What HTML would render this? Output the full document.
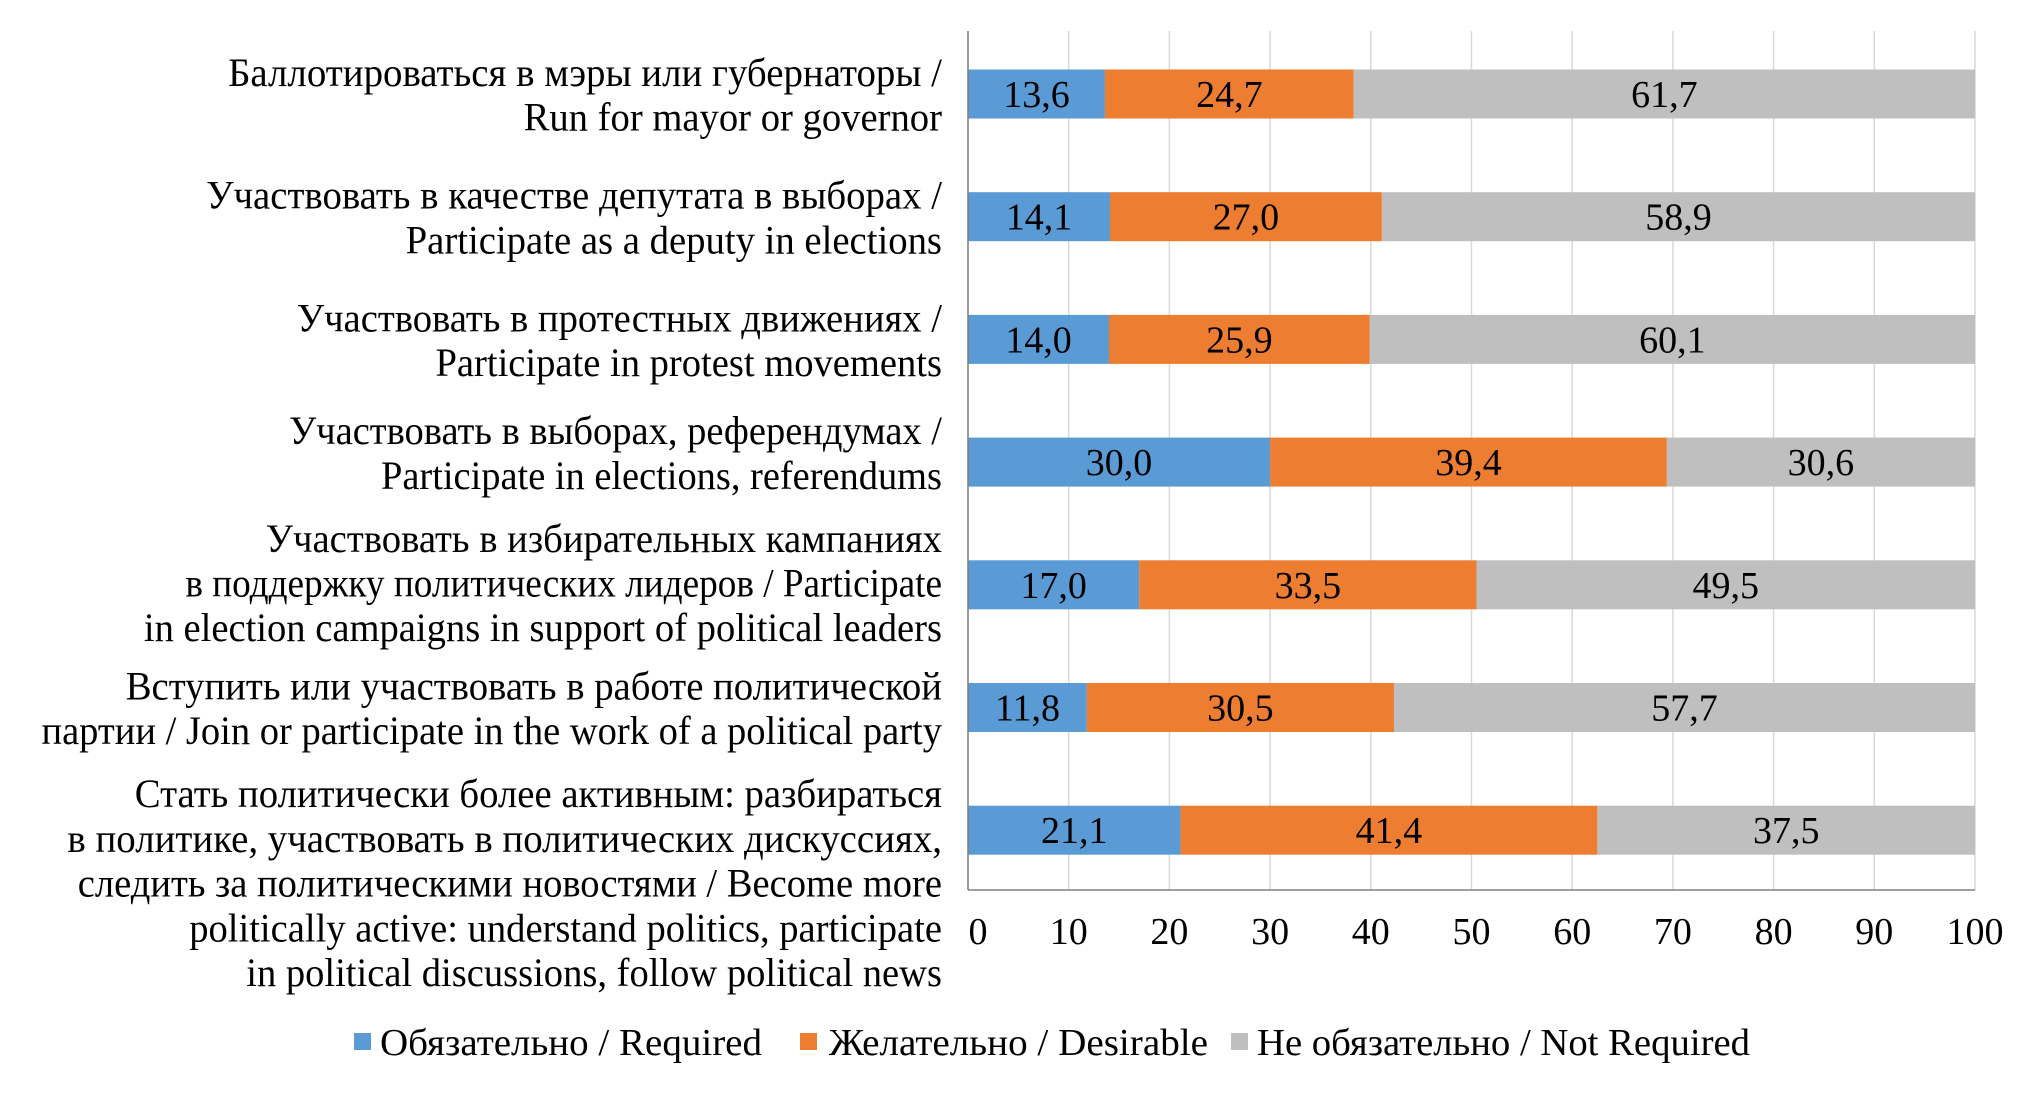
<!DOCTYPE html>
<html><head><meta charset="utf-8"><style>
html,body{margin:0;padding:0;background:#fff}
svg{display:block}
text{font-family:"Liberation Serif","Times New Roman",serif;font-size:38px;fill:#000}
text.cat{font-size:40px}
</style></head><body>
<svg id="chart" width="2022" height="1093" xmlns="http://www.w3.org/2000/svg"></svg>
<script>
const categories=[
 [["Баллотироваться в мэры или губернаторы /",176],["Run for mayor or governor",404]],
 [["Участвовать в качестве депутата в выборах /",159],["Participate as a deputy in elections",313]],
 [["Участвовать в протестных движениях /",229],["Participate in protest movements",336]],
 [["Участвовать в выборах, референдумах /",223],["Participate in elections, referendums",294]],
 [["Участвовать в избирательных кампаниях",205],["в поддержку политических лидеров / Participate",143],["in election campaigns in support of political leaders",111]],
 [["Вступить или участвовать в работе политической",97],["партии / Join or participate in the work of a political party",32]],
 [["Стать политически более активным: разбираться",104],["в политике, участвовать в политических дискуссиях,",52],["следить за политическими новостями / Become more",60],["politically active: understand politics, participate",146],["in political discussions, follow political news",190]]
];
const required=[13.6,14.1,14.0,30.0,17.0,11.8,21.1];
const desirable=[24.7,27.0,25.9,39.4,33.5,30.5,41.4];
const notRequired=[61.7,58.9,60.1,30.6,49.5,57.7,37.5];
const ticks=[0,10,20,30,40,50,60,70,80,90,100];
const seriesNames=["Обязательно / Required","Желательно / Desirable","Не обязательно / Not Required"];

const svg=document.getElementById('chart');
const NS="http://www.w3.org/2000/svg";
const X0=968,X1=1975,TOP=31,BOT=890;
const x=v=>X0+(X1-X0)*v/100;
const rowC=i=>94+i*122.7;
const BH=49;
function el(t,a,p){const e=document.createElementNS(NS,t);for(const k in a)e.setAttribute(k,a[k]);(p||svg).appendChild(e);return e;}
const fmt=v=>v.toFixed(1).replace('.',',');
ticks.forEach(t=>{
 const g=el('line',{x1:x(t),x2:x(t),y1:TOP,y2:BOT,stroke:'#d9d9d9','stroke-width':1.5});
 
 
 const tl=el('text',{x:x(t)+(t===0?10:0),y:944,'text-anchor':'middle'});tl.textContent=t;
 
 
});
const colors=['#5b9bd5','#ed7d31','#bfbfbf'];
const series=[required,desirable,notRequired];
categories.forEach((lines,i)=>{
 const cy=rowC(i);
 let acc=0;
 series.forEach((s,k)=>{
  const v=s[i];
  const r=el('rect',{x:x(acc),y:cy-BH/2,width:x(acc+v)-x(acc),height:BH,fill:colors[k]});
  
  
  const t=el('text',{x:(x(acc)+x(acc+v))/2,y:cy+13,'text-anchor':'middle'});t.textContent=fmt(v);
  
  
  acc+=v;
 });
 const n=lines.length, lh=44.7;
 let y0 = n===2 ? cy-22 : (n===3? cy-47 : cy-37);
 if(i===3) y0=cy-32;
 lines.forEach((ln,j)=>{
  const sx=ln[1]*1.296, right=942;
  const t=el('text',{class:'cat',x:right,y:y0+j*lh+14,'text-anchor':'end',textLength:right-sx,lengthAdjust:'spacingAndGlyphs'});
  t.textContent=ln[0];
  
  
 });
});
const ax=el('line',{x1:X0,x2:X1,y1:BOT,y2:BOT,stroke:'#808080','stroke-width':1.5});


const ay=el('line',{x1:X0,x2:X0,y1:TOP,y2:BOT,stroke:'#808080','stroke-width':1.5});


const lg=[[354,380,762],[800,829,1208],[1231,1257,1750]];
seriesNames.forEach((nm,k)=>{
 const s=el('rect',{x:lg[k][0],y:1033,width:17,height:17,fill:colors[k]});
 
 
 const t=el('text',{x:lg[k][1],y:1055,textLength:lg[k][2]-lg[k][1],lengthAdjust:'spacingAndGlyphs'});
 t.textContent=nm;
 
 
});
</script>
</body></html>
